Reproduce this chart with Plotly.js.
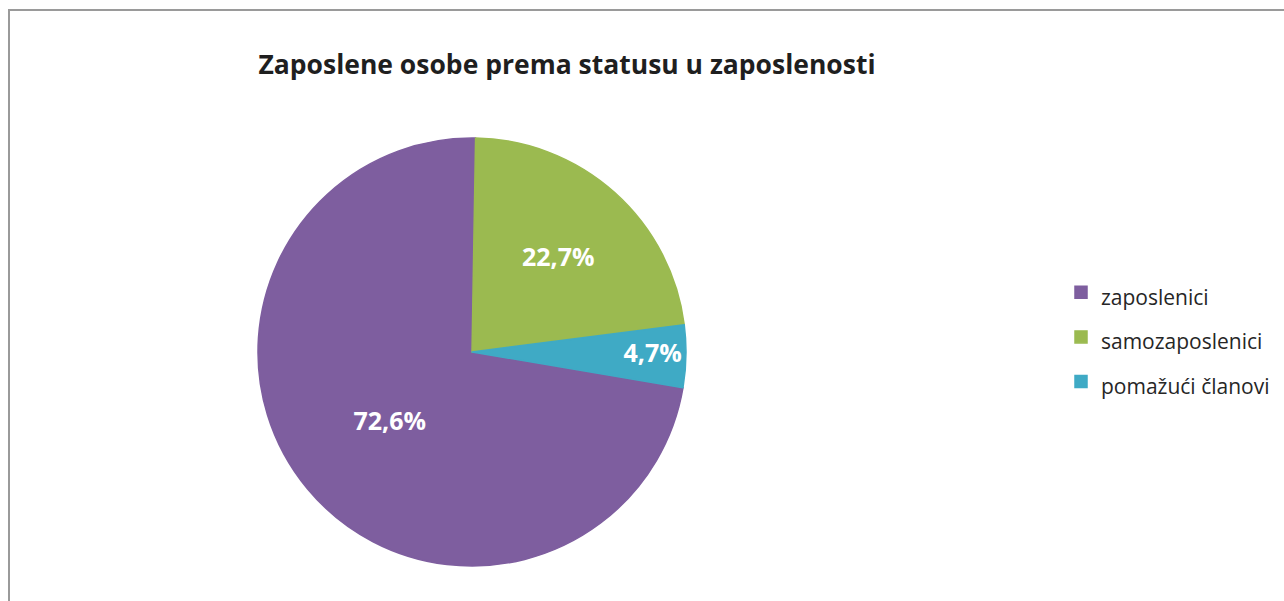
<!DOCTYPE html>
<html>
<head>
<meta charset="utf-8">
<script src="https://cdn.plot.ly/plotly-3.0.1.min.js"></script>
<style>
  html, body { margin: 0; padding: 0; background: #fff; }
  #frame { position: absolute; left: 0; top: 0; width: 1284px; height: 601px; }
  #chart { position: absolute; left: 0; top: 0; width: 1284px; height: 601px; }
  #edge { position: absolute; left: 8px; top: 9px; right: 0; bottom: 0; border-left: 2px solid #9a9a9a; border-top: 2px solid #9a9a9a; pointer-events: none; }
</style>
</head>
<body>
<div id="frame">
  <div id="chart"></div>
  <div id="edge"></div>
</div>
<script>
const categories = ["zaposlenici", "samozaposlenici", "pomažući članovi"];
const shares = [72.6, 22.7, 4.7];
const colors = ["#7E5E9F", "#9BBA50", "#3FAAC5"];

// legend rows are 45px apart in the original: the legend font sets the row height,
// the visible label is drawn at 21px
const legendTextSize = 21;
const legendLabels = categories.map(c => '<span style="font-size:' + legendTextSize + 'px">' + c + '</span>');

const trace = {
  type: "pie",
  labels: legendLabels,
  values: shares,
  sort: false,
  direction: "clockwise",
  rotation: 99.6,
  marker: { colors: colors, line: { width: 1.5, color: colors } },
  texttemplate: "%{percent:.1%}",
  textposition: "inside",
  insidetextorientation: "horizontal",
  textfont: { family: "Open Sans", size: 25, color: "#ffffff", weight: 700 },
  hoverinfo: "percent",
  domain: { x: [258/1284, 686/1284], y: [(601-566)/601, (601-138)/601] }
};

const layout = {
  width: 1284,
  height: 601,
  margin: { l: 0, r: 0, t: 0, b: 0 },
  paper_bgcolor: "#ffffff",
  separators: ",.",
  title: {
    text: "Zaposlene osobe prema statusu u zaposlenosti",
    font: { family: "Open Sans", size: 26.5, color: "#1f1f1f", weight: 700 },
    x: 567/1284, xanchor: "center",
    y: 1 - 65/601, yanchor: "middle"
  },
  showlegend: true,
  legend: {
    x: 1061/1284, xanchor: "left",
    y: 1 - 337/601, yanchor: "middle",
    font: { family: "Open Sans", size: 32, color: "#262626" },
    bgcolor: "rgba(0,0,0,0)"
  }
};

Plotly.newPlot("chart", [trace], layout, { displayModeBar: false, staticPlot: true });
</script>
</body>
</html>
